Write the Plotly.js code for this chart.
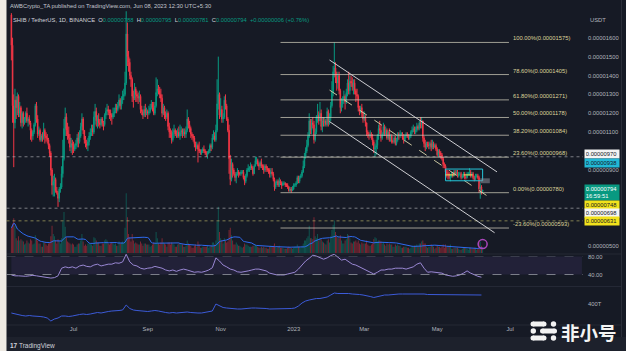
<!DOCTYPE html>
<html><head><meta charset="utf-8">
<script src="https://cdn.plot.ly/plotly-3.0.1.min.js"></script>
<style>html,body{margin:0;padding:0;background:#161a25;overflow:hidden}#chart{width:626px;height:351px}</style>
</head><body><div id="chart"></div>
<script>
// ---------- DATA (prices in units of 1e-8 USDT) ----------
const startDate = '2022-05-10';
const firstOpen = 1720;
const closes = [
/*May22*/1560,1240,1150,1270,1230,1290,1200,1230,1150,1200,1150,1170,1200,1160,1170,1150,1110,1080,1100,1140,1240,1170,
/*Jun22*/1090,1110,1060,1080,1070,1110,1080,1070,1060,1030,990,900,820,840,850,790,780,750,800,810,880,960,1120,1180,1110,1090,1070,1020,1040,1030,
/*Jul22*/1010,1030,1040,1070,1050,1080,1130,1170,1110,1060,1040,1030,1050,1080,1100,1120,1100,1180,1210,1160,1170,1150,1140,1170,1150,1140,1190,1210,1220,1210,1200,
/*Aug22*/1190,1180,1200,1210,1230,1220,1240,1270,1240,1270,1290,1300,1360,1620,1500,1470,1400,1380,1290,1280,1330,1300,1290,1280,1290,1220,1210,1190,1220,1200,1210,
/*Sep22*/1200,1210,1230,1250,1230,1200,1240,1310,1330,1320,1300,1280,1200,1230,1190,1180,1200,1130,1100,1090,1060,1100,1110,1090,1080,1100,1080,1100,1110,1090,
/*Oct22*/1100,1090,1110,1170,1140,1120,1090,1080,1070,1040,1020,1030,1010,1000,990,1000,1010,1000,990,980,990,1000,1030,1020,1070,1080,1060,1110,1250,1300,1190,
/*Nov22*/1220,1170,1180,1270,1240,1170,1110,960,850,930,900,880,860,880,890,880,880,890,890,860,840,870,900,910,910,920,910,880,920,950,
/*Dec22*/950,930,920,940,920,920,900,920,910,900,900,880,890,880,850,810,830,840,820,840,830,820,830,830,820,820,810,790,800,790,800,
/*Jan23*/820,820,830,860,840,860,870,890,920,970,1000,1030,1080,1160,1110,1150,1140,1060,1100,1180,1190,1160,1200,1130,1160,1150,1160,1140,1210,1150,1180,
/*Feb23*/1240,1310,1420,1440,1390,1360,1400,1320,1230,1250,1270,1290,1260,1310,1360,1320,1370,1360,1340,1360,1320,1300,1290,1230,1210,1230,1200,1170,
/*Mar23*/1180,1150,1100,1090,1080,1090,1070,1050,1010,1020,1030,1080,1120,1110,1070,1090,1130,1090,1110,1070,1100,1060,1080,1050,1050,1070,1040,1060,1090,1080,1090,
/*Apr23*/1090,1070,1060,1080,1090,1080,1070,1080,1100,1110,1120,1100,1110,1130,1120,1150,1140,1160,1070,1040,1020,1040,1030,1030,1040,1020,1040,1020,1030,1010,
/*May23*/980,1000,990,980,960,930,920,890,880,880,860,870,880,870,890,880,890,870,880,880,860,870,880,860,860,880,880,890,870,880,860,
/*Jun23*/850,870,870,860,800,810,788,794];
const highs = [
/*May22*/1730,1600,1300,1330,1290,1310,1300,1260,1240,1210,1210,1180,1210,1230,1180,1190,1160,1120,1110,1150,1250,1260,
/*Jun22*/1190,1130,1120,1090,1100,1150,1120,1100,1090,1070,1040,1000,910,870,880,860,810,790,810,830,920,1060,1170,1230,1200,1150,1130,1090,1070,1060,
/*Jul22*/1050,1040,1060,1090,1100,1110,1150,1200,1180,1110,1080,1060,1070,1100,1120,1140,1140,1210,1250,1230,1190,1200,1170,1180,1180,1160,1200,1230,1250,1240,1220,
/*Aug22*/1220,1200,1230,1230,1250,1250,1260,1300,1280,1290,1320,1330,1420,1740,1680,1530,1490,1420,1390,1320,1360,1340,1320,1310,1320,1300,1240,1220,1240,1250,1230,
/*Sep22*/1220,1240,1250,1270,1260,1260,1260,1390,1380,1350,1340,1330,1300,1250,1240,1210,1220,1210,1150,1120,1110,1120,1140,1120,1110,1120,1130,1140,1130,1120,
/*Oct22*/1120,1120,1130,1220,1180,1160,1130,1100,1090,1080,1050,1050,1040,1050,1010,1010,1020,1030,1010,1000,1000,1010,1040,1040,1090,1110,1100,1140,1380,1500,1310,
/*Nov22*/1280,1240,1200,1290,1300,1250,1180,1140,980,960,940,910,890,890,910,900,890,900,900,900,870,880,910,930,920,940,930,920,930,970,
/*Dec22*/970,960,940,950,960,930,930,930,930,920,910,910,910,910,890,860,840,850,850,860,850,840,840,840,835,830,830,815,810,810,815,
/*Jan23*/830,830,840,870,870,870,880,900,950,990,1020,1060,1100,1200,1170,1170,1180,1160,1120,1190,1250,1210,1260,1220,1180,1180,1180,1170,1230,1220,1200,
/*Feb23*/1260,1370,1450,1575,1470,1420,1420,1420,1330,1280,1290,1320,1300,1330,1380,1420,1400,1400,1390,1380,1380,1330,1330,1300,1240,1240,1250,1210,
/*Mar23*/1210,1190,1150,1110,1100,1110,1100,1090,1060,1040,1060,1090,1140,1160,1140,1100,1150,1140,1130,1120,1110,1120,1090,1090,1060,1080,1080,1070,1100,1100,1110,
/*Apr23*/1100,1100,1090,1090,1100,1100,1090,1090,1110,1130,1140,1130,1130,1150,1140,1160,1180,1180,1160,1080,1060,1050,1050,1050,1050,1060,1060,1050,1040,1040,
/*May23*/1020,1010,1010,1000,990,970,940,930,900,900,890,880,890,890,900,900,900,900,890,890,890,880,890,890,870,890,890,910,900,890,890,
/*Jun23*/870,880,880,880,870,830,820,795];
const lows = [
/*May22*/1480,1150,915,1120,1170,1190,1180,1180,1130,1120,1130,1140,1150,1150,1130,1140,1060,1050,1060,1090,1130,1150,
/*Jun22*/1070,1080,1050,1050,1050,1060,1040,1050,1040,1010,970,870,770,760,760,780,770,705,730,780,800,860,950,1080,1080,1060,1040,1000,990,980,
/*Jul22*/990,1000,1010,1020,1020,1040,1070,1110,1090,1040,1020,1010,1000,1030,1060,1080,1080,1090,1140,1130,1120,1130,1120,1130,1130,1110,1130,1170,1190,1190,1170,
/*Aug22*/1160,1140,1170,1180,1200,1200,1210,1230,1220,1220,1250,1270,1290,1350,1450,1420,1380,1340,1260,1230,1270,1260,1260,1250,1260,1200,1190,1170,1180,1180,1190,
/*Sep22*/1170,1190,1200,1220,1210,1190,1190,1230,1290,1300,1280,1260,1180,1190,1170,1160,1170,1110,1070,1070,1040,1050,1070,1080,1070,1070,1070,1060,1080,1070,
/*Oct22*/1080,1070,1070,1100,1120,1100,1070,1060,1050,1020,1000,1010,940,990,980,980,990,990,980,970,960,985,990,1000,1010,1060,1050,1050,1100,1220,1170,
/*Nov22*/1180,1150,1150,1170,1220,1160,1100,880,820,840,860,870,840,830,870,860,870,870,880,850,820,830,860,890,890,900,900,870,880,920,
/*Dec22*/930,920,900,910,910,900,880,890,890,890,880,860,860,870,840,790,800,820,810,810,820,800,815,820,810,810,800,785,785,780,790,
/*Jan23*/795,810,810,825,830,830,855,860,885,910,960,990,1020,1070,1090,1090,1120,1040,1050,1090,1150,1140,1160,1110,1100,1130,1130,1130,1130,1130,1140,
/*Feb23*/1160,1230,1290,1390,1360,1320,1330,1300,1200,1210,1230,1250,1220,1250,1290,1300,1300,1340,1320,1300,1300,1260,1270,1210,1190,1200,1180,1150,
/*Mar23*/1160,1130,1080,1070,1060,1070,1060,1030,990,970,980,1010,1060,1090,1050,1060,1080,1080,1080,1060,1060,1050,1050,1040,1040,1040,1030,1030,1050,1060,1070,
/*Apr23*/1080,1060,1040,1050,1070,1070,1060,1060,1070,1090,1100,1090,1090,1100,1110,1110,1120,1120,1050,1020,1000,1010,1020,1010,1010,1000,1010,1010,1020,1000,
/*May23*/970,970,970,960,950,910,910,870,860,850,850,840,860,860,865,870,870,860,860,870,850,855,860,850,850,855,870,870,860,860,850,
/*Jun23*/840,845,860,850,780,748,770,781];
const volumes = [
/*May22*/24,28,33,26,14,12,16,12,13,12,11,8,9,12,10,9,13,12,8,9,17,14,
/*Jun22*/12,9,9,6,6,10,10,8,7,9,10,16,26,18,16,12,9,13,11,9,14,30,39,25,15,11,10,9,8,9,
/*Jul22*/8,6,6,8,9,9,12,18,11,7,8,7,9,9,9,8,7,15,14,12,10,10,7,7,9,9,12,13,12,9,8,
/*Aug22*/9,10,9,8,9,7,7,11,9,10,11,10,24,57,34,18,15,11,18,12,9,10,9,8,8,11,9,7,9,9,8,
/*Sep22*/8,8,6,7,8,10,9,20,14,9,8,10,14,10,9,8,6,10,10,8,10,9,8,6,6,8,9,9,8,8,
/*Oct22*/6,6,7,12,9,8,7,5,5,7,8,6,11,8,5,5,6,6,6,6,7,5,6,7,10,10,8,12,30,44,20,
/*Nov22*/14,12,9,14,12,10,11,22,24,17,12,8,8,10,8,7,7,6,5,6,9,8,8,7,6,6,6,7,7,8,
/*Dec22*/7,6,5,5,6,5,6,5,5,4,4,6,7,6,7,9,6,5,6,7,5,5,5,4,4,4,5,6,5,5,4,
/*Jan23*/5,6,6,8,6,6,5,7,9,12,12,14,16,26,14,14,13,34,16,14,18,12,14,13,11,10,9,8,12,13,10,
/*Feb23*/16,22,27,31,20,16,15,14,17,12,9,9,12,13,18,17,14,10,9,11,11,12,10,12,9,8,10,9,
/*Mar23*/9,9,12,8,7,7,8,9,13,15,14,11,12,12,11,9,10,8,7,9,8,9,8,8,6,6,8,7,8,7,7,
/*Apr23*/5,5,6,6,6,5,5,4,5,7,7,7,7,8,6,9,9,11,12,9,9,6,5,6,6,8,7,6,4,5,
/*May23*/7,6,6,5,6,8,5,8,6,7,7,8,4,4,5,5,5,5,4,3,3,4,5,5,5,4,3,5,5,4,4,
/*Jun23*/5,5,3,4,12,11,7,4];
const volMaLength = 20;

// indicator panes, one value every 3 days from startDate
const indicatorStepDays = 3;
const oscValues = [39,37,37,36,36,37,38,37,36,35, 34,32,33,37,54,57,55,57,54,59, 61,58,57,61,63,59,61,63,63,66,
 65,68,85,68,61,59,54,52,54,55, 58,56,54,50,48,50,47,50,52,50, 48,45,46,45,47,50,55,77,70,61,
 57,52,50,46,45,46,48,50,52,52, 50,48,43,41,39,39,39,41,43,45, 52,61,70,76,83,81,77,74,77,82,
 85,79,72,74,68,63,61,57,54,50, 46,41,45,50,50,52,52,54,54,54, 52,54,57,63,66,54,45,46,45,43,
 43,39,37,36,37,39,43,48,43,39, 36,34];
const obvValues = [220,200,180,170,160,170,160,160,150,140, 120,60,100,120,160,160,150,160,180,190,
 200,190,200,220,230,220,240,250,260,260, 270,280,380,310,280,270,260,260,250,260,
 270,260,240,230,220,230,220,230,240,240, 230,220,220,220,230,240,260,400,360,330,
 320,310,300,300,300,310,310,320,320,320, 310,310,300,300,300,300,300,300,310,320,
 360,420,460,480,500,510,510,520,540,580, 620,610,610,620,610,600,600,590,580,570,
 550,530,550,570,580,580,590,600,600,600, 600,600,610,610,610,600,590,590,590,580,
 580,580,580,580,580,580,580,580,580,580, 580,580];

// drawings
const fibNames = ['100.00%','78.60%','61.80%','50.00%','38.20%','23.60%','0.00%','-23.60%'];
const fibPrices = [1575,1405,1271,1178,1084,968,780,593];
const fibStart = '2022-12-21', fibEnd = '2023-06-30';
const channelStart = '2023-01-31';
const channelEnds = ['2023-06-20','2023-06-18','2023-06-17'];
const channelStartPrices = [1482,1156,1323];
const channelEndPrices = [890,568,741];
const hLinePrices = [970,698,631];
const axisLabelPrices = [970,938,794,748,698,631];
const rangeBox = {x0:'2023-05-08', x1:'2023-06-08', low:843, high:905, mid:874, midEnd:'2023-06-04'};
const greyTag = {x0:'2023-06-06', x1:'2023-06-14', low:830, high:856};
const eventIcon = {date:'2023-06-08', price:508};

const xTickDates = ['2022-07-01','2022-09-01','2022-11-01','2023-01-01','2023-03-01','2023-05-01','2023-07-01'];
const xTickLabels = ['Jul','Sep','Nov','2023','Mar','May','Jul'];
const priceTicks = [500,900,1100,1200,1300,1400,1500,1600];
const oscTicks = [40,80];
const obvTicks = [400];

// ---------- BUILD ----------
const W = 626, Hh = 351;
const PX = x => x / W, PY = y => 1 - y / Hh;
const DAY = 86400000;
const t0 = Date.parse(startDate + 'T00:00:00Z');
const dayStr = i => new Date(t0 + i * DAY).toISOString().slice(0, 10);
const dates = closes.map((_, i) => dayStr(i));
const opens = [firstOpen].concat(closes.slice(0, -1));
const fmt = v => (v * 1e-8).toFixed(8);
const UP = '#089981', DN = '#f23645';

const volColors = closes.map((c, i) => c >= opens[i] ? 'rgba(8,153,129,0.5)' : 'rgba(242,54,69,0.5)');
const volMa = volumes.map((v, i) => {
  const s = Math.max(0, i - volMaLength + 1);
  const w = volumes.slice(s, i + 1);
  return w.reduce((a, b) => a + b, 0) / w.length;
});
const indDates = oscValues.map((_, i) => dayStr(i * indicatorStepDays));

const traces = [
  {type:'bar', x:dates, y:volumes, xaxis:'x', yaxis:'y', marker:{color:volColors, line:{width:0}}, hoverinfo:'skip'},
  {type:'scatter', mode:'lines', x:dates, y:volMa, xaxis:'x', yaxis:'y', line:{color:'#2f6bf0', width:1}, hoverinfo:'skip'},
  {type:'candlestick', x:dates, open:opens, high:highs, low:lows, close:closes, xaxis:'x', yaxis:'y2',
   increasing:{line:{color:UP, width:1}, fillcolor:UP}, decreasing:{line:{color:DN, width:1}, fillcolor:DN},
   whiskerwidth:0, hoverinfo:'skip'},
  {type:'scatter', mode:'markers', x:[eventIcon.date], y:[eventIcon.price], xaxis:'x', yaxis:'y2',
   marker:{symbol:'circle-open', size:9, color:'#ab47bc', line:{width:1.5, color:'#ab47bc'}}, hoverinfo:'skip'},
  {type:'scatter', mode:'lines', x:indDates, y:oscValues, xaxis:'x', yaxis:'y3', line:{color:'#9a88d4', width:1}, hoverinfo:'skip'},
  {type:'scatter', mode:'lines', x:indDates, y:obvValues, xaxis:'x', yaxis:'y4', line:{color:'#3c5bd8', width:1}, hoverinfo:'skip'}
];

const shapes = [];
// left light strip, bottom branding strip, separators
shapes.push({type:'rect', xref:'paper', yref:'paper', x0:0, x1:PX(6.5), y0:0, y1:1, fillcolor:'#eeeae3', line:{width:0}, layer:'above'});
shapes.push({type:'rect', xref:'paper', yref:'paper', x0:PX(6.5), x1:1, y0:0, y1:PY(337), fillcolor:'#1d212c', line:{width:0}, layer:'below'});
[254, 286.5, 325].forEach(y => shapes.push({type:'line', xref:'paper', yref:'paper', x0:PX(6.5), x1:PX(621.5), y0:PY(y), y1:PY(y), line:{color:'#242835', width:1}, layer:'below'}));
shapes.push({type:'line', xref:'paper', yref:'paper', x0:PX(621.5), x1:PX(621.5), y0:PY(337), y1:1, line:{color:'#2a2e39', width:1}, layer:'below'});
// oscillator band
shapes.push({type:'rect', xref:'x', yref:'y3', x0:dates[0], x1:'2023-08-30', y0:oscTicks[0], y1:oscTicks[1], fillcolor:'rgba(126,87,194,0.12)', line:{width:0}, layer:'below'});
shapes.push({type:'rect', xref:'paper', yref:'y3', x0:PX(6.5), x1:PX(583), y0:oscTicks[0], y1:oscTicks[1], fillcolor:'rgba(126,87,194,0.0)', line:{width:0}, layer:'below'});
shapes.push({type:'line', xref:'paper', yref:'y3', x0:PX(6.5), x1:PX(583), y0:oscTicks[0], y1:oscTicks[0], line:{color:'rgba(150,152,162,0.8)', width:1, dash:'dash'}});
shapes.push({type:'line', xref:'paper', yref:'y3', x0:PX(6.5), x1:PX(583), y0:oscTicks[1], y1:oscTicks[1], line:{color:'rgba(120,123,134,0.35)', width:1, dash:'dash'}});
// horizontal dotted levels
const hColors = ['rgba(205,205,210,0.55)','rgba(205,205,210,0.55)','rgba(200,195,110,0.6)'];
hLinePrices.forEach((p, i) => shapes.push({type:'line', xref:'paper', yref:'y2', x0:PX(6.5), x1:PX(583), y0:p, y1:p, line:{color:hColors[i], width:1, dash:'dot'}}));
// fib lines
fibPrices.forEach(p => shapes.push({type:'line', xref:'x', yref:'y2', x0:fibStart, x1:fibEnd, y0:p, y1:p, line:{color:'rgba(205,203,185,0.75)', width:1}}));
// channel
const chStyles = [{color:'rgba(225,225,228,0.9)', width:1}, {color:'rgba(225,225,228,0.9)', width:1}, {color:'rgba(230,226,180,0.85)', width:1, dash:'dash'}];
channelEnds.forEach((d, i) => shapes.push({type:'line', xref:'x', yref:'y2', x0:channelStart, y0:channelStartPrices[i], x1:d, y1:channelEndPrices[i], line:chStyles[i]}));
// range box
shapes.push({type:'rect', xref:'x', yref:'y2', x0:rangeBox.x0, x1:rangeBox.x1, y0:rangeBox.low, y1:rangeBox.high, line:{color:'#26c6da', width:1}, fillcolor:'rgba(0,0,0,0)'});
shapes.push({type:'line', xref:'x', yref:'y2', x0:rangeBox.x0, x1:rangeBox.midEnd, y0:rangeBox.mid, y1:rangeBox.mid, line:{color:'#f5e35a', width:1, dash:'dash'}});
shapes.push({type:'rect', xref:'x', yref:'y2', x0:greyTag.x0, x1:greyTag.x1, y0:greyTag.low, y1:greyTag.high, line:{width:0}, fillcolor:'rgba(140,143,155,0.55)'});
// watermark logo
function rectPx(x0, y0, x1, y1, c){ return {type:'rect', xref:'paper', yref:'paper', x0:PX(x0), x1:PX(x1), y0:PY(y1), y1:PY(y0), fillcolor:c, line:{width:0}, layer:'above'}; }
function circPx(cx, cy, r, c){ return {type:'circle', xref:'paper', yref:'paper', x0:PX(cx-r), x1:PX(cx+r), y0:PY(cy+r), y1:PY(cy-r), fillcolor:c, line:{width:0}, layer:'above'}; }
function pill(x0, x1, yc, h, c){ const r = h/2; return [rectPx(x0+r, yc-r, x1-r, yc+r, c), circPx(x0+r, yc, r, c), circPx(x1-r, yc, r, c)]; }
const LG = '#f2f2f2';
shapes.push(...pill(530.5, 546.5, 324, 5, LG), circPx(553.5, 324, 2.7, LG));
shapes.push(circPx(533.3, 331, 2.7, LG), ...pill(540, 557, 331, 5, LG));
shapes.push(...pill(530.5, 546.5, 338, 5, LG), circPx(553.5, 338, 2.7, LG));

// annotations
const FONT = 'Liberation Sans, Arial, sans-serif';
const ann = [];
const n = closes.length;
const chg = closes[n-1] - closes[n-2];
const pct = (chg / closes[n-2] * 100).toFixed(2);
const G = s => '<span style="color:#089981">' + s + '</span>';
ann.push({xref:'paper', yref:'paper', x:PX(7.5), y:PY(6), xanchor:'left', yanchor:'middle', showarrow:false,
  text:'AWBCrypto_TA published on TradingView.com, Jun 08, 2023 12:30 UTC+5:30', font:{family:FONT, size:5.8, color:'#c3c6ce'}});
ann.push({xref:'paper', yref:'paper', x:PX(11), y:PY(20), xanchor:'left', yanchor:'middle', showarrow:false,
  text:'SHIB / TetherUS, 1D, BINANCE  O' + G(fmt(opens[n-1])) + '  H' + G(fmt(highs[n-1])) + '  L' + G(fmt(lows[n-1])) + '  C' + G(fmt(closes[n-1])) + '  ' + G((chg >= 0 ? '+' : '') + fmt(chg) + ' (' + (chg >= 0 ? '+' : '') + pct + '%)'),
  font:{family:FONT, size:5.8, color:'#d1d4dc'}});
ann.push({xref:'paper', yref:'paper', x:PX(588), y:PY(20), xanchor:'left', yanchor:'middle', showarrow:false, text:'USDT', font:{family:FONT, size:5.8, color:'#b2b5be'}});
fibNames.forEach((nm, i) => ann.push({xref:'x', yref:'y2', x:fibEnd, y:fibPrices[i], xanchor:'left', yanchor:'bottom', xshift:2, yshift:-1, showarrow:false,
  text:nm + '(' + fmt(fibPrices[i]) + ')', font:{family:FONT, size:5.8, color:'#ddd39a'}}));
const boxBg = ['#f4f4f4', '#22b8d6', UP, '#f2e21c', '#f4f4f4', '#f2e21c'];
const boxFg = ['#131722', '#131722', '#ffffff', '#131722', '#131722', '#131722'];
const boxShift = [2.5, 0, -2.5, -6.5, -5, 0];
axisLabelPrices.forEach((p, i) => ann.push({xref:'paper', yref:'y2', x:PX(583.5), y:p, xanchor:'left', yanchor:'middle', yshift:boxShift[i], showarrow:false,
  text:fmt(p) + (i === 2 ? '<br>16:59:51' : ''), align:'left', width:32, bgcolor:boxBg[i], borderpad:0.8,
  font:{family:FONT, size:5.8, color:boxFg[i]}}));
ann.push({xref:'paper', yref:'paper', x:PX(588.5), y:PY(331.5), xanchor:'center', yanchor:'middle', showarrow:false,
  text:'<b>非小号</b>', font:{family:'Noto Sans CJK SC', size:18.5, color:'#f4f4f4'}});
ann.push({xref:'paper', yref:'paper', x:PX(8), y:PY(345.5), xanchor:'left', yanchor:'middle', showarrow:false,
  text:'<b>17</b> TradingView', font:{family:FONT, size:6.5, color:'#d1d4dc'}});

const axFont = {family:FONT, size:5.8, color:'#b2b5be'};
const layout = {
  width:W, height:Hh, margin:{l:0, r:0, t:0, b:0},
  paper_bgcolor:'#161a25', plot_bgcolor:'rgba(0,0,0,0)', showlegend:false, bargap:0.25,
  font:{family:FONT, size:6, color:'#b2b5be'},
  xaxis:{type:'date', domain:[PX(6.5), PX(583)], range:['2022-05-05 22:19', '2023-08-30 21:36'], anchor:'y4',
    tickvals:xTickDates, ticktext:xTickLabels, tickfont:axFont, showgrid:false, zeroline:false, showline:false, ticks:'',
    rangeslider:{visible:false}, fixedrange:true},
  yaxis:{domain:[PY(253), 1], range:[0, 241], visible:false, fixedrange:true},
  yaxis2:{overlaying:'y', side:'right', anchor:'x', range:[460.9, 1799.5], tickvals:priceTicks, ticktext:priceTicks.map(fmt),
    tickfont:axFont, showgrid:false, zeroline:false, showline:false, ticks:'', ticklabelstandoff:4, fixedrange:true},
  yaxis3:{domain:[PY(286), PY(254)], side:'right', anchor:'x', range:[14.4, 85.6], tickvals:oscTicks, ticktext:oscTicks.map(v => v.toFixed(2)),
    tickfont:axFont, showgrid:false, zeroline:false, showline:false, ticks:'', ticklabelstandoff:4, fixedrange:true},
  yaxis4:{domain:[PY(324), PY(287)], side:'right', anchor:'x', range:[0, 740], tickvals:obvTicks, ticktext:obvTicks.map(v => v + 'T'),
    tickfont:axFont, showgrid:false, zeroline:false, showline:false, ticks:'', ticklabelstandoff:4, fixedrange:true},
  shapes:shapes, annotations:ann
};
Plotly.newPlot('chart', traces, layout, {staticPlot:true, displayModeBar:false});
</script></body></html>
